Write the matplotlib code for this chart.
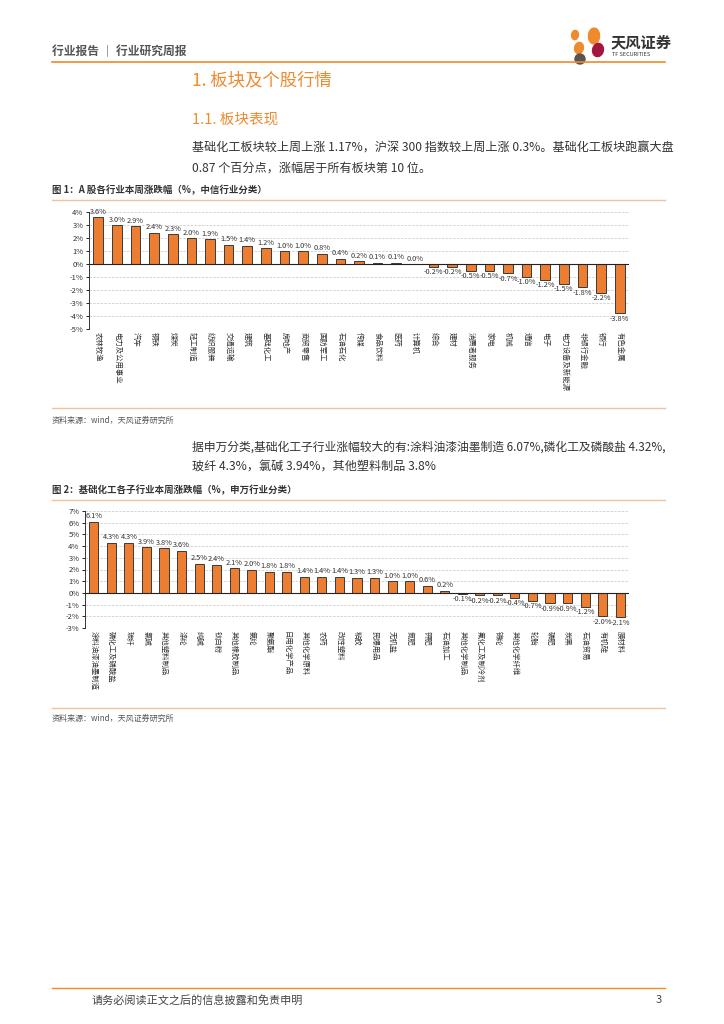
import matplotlib
matplotlib.use('Agg')
import matplotlib.pyplot as plt
from matplotlib.patches import Ellipse
from matplotlib.lines import Line2D

plt.rcParams['font.family'] = ['Noto Sans CJK SC', 'DejaVu Sans']

# ---- data: chart 1 (CITIC industries, weekly change %) ----
ind_names = ['农林牧渔', '电力及公用事业', '汽车', '钢铁', '煤炭', '轻工制造', '纺织服装',
             '交通运输', '建筑', '基础化工', '房地产', '商贸零售', '国防军工', '石油石化',
             '传媒', '食品饮料', '医药', '计算机', '综合', '建材', '消费者服务', '家电',
             '机械', '通信', '电子', '电力设备及新能源', '非银行金融', '银行', '有色金属']
ind_chg = [3.6, 3.0, 2.9, 2.4, 2.3, 2.0, 1.9, 1.5, 1.4, 1.2, 1.0, 1.0, 0.8, 0.4,
           0.2, 0.1, 0.1, 0.0, -0.2, -0.2, -0.5, -0.5, -0.7, -1.0, -1.2, -1.5, -1.8,
           -2.2, -3.8]

# ---- data: chart 2 (SW chemical sub-industries, weekly change %) ----
sub_names = ['涂料油漆油墨制造', '磷化工及磷酸盐', '玻纤', '氯碱', '其他塑料制品', '涤纶',
             '纯碱', '钛白粉', '其他橡胶制品', '氨纶', '聚氨酯', '日用化学产品',
             '其他化学原料', '农药', '改性塑料', '粘胶', '民爆用品', '无机盐', '氮肥',
             '钾肥', '石油加工', '其他化学制品', '氟化工及制冷剂', '锦纶', '其他化学纤维',
             '轮胎', '磷肥', '炭黑', '石油贸易', '有机硅', '膜材料']
sub_chg = [6.1, 4.3, 4.3, 3.9, 3.8, 3.6, 2.5, 2.4, 2.1, 2.0, 1.8, 1.8, 1.4, 1.4,
           1.4, 1.3, 1.3, 1.0, 1.0, 0.6, 0.2, -0.1, -0.2, -0.2, -0.4, -0.7, -0.9,
           -0.9, -1.2, -2.0, -2.1]

W, H = 724, 1024
ORANGE = '#ED7D31'
TITLE_OR = '#F08A2E'
LINE_OR = '#F6C197'

fig = plt.figure(figsize=(W / 100, H / 100), dpi=100)


def px(x, y):
    return x / W, 1 - y / H


def text(x, y, s, **kw):
    fig.text(*px(x, y), s, **kw)


def hline(y, x0=52, x1=665, color=LINE_OR, lw=1.0):
    fig.add_artist(Line2D([x0 / W, x1 / W], [1 - y / H, 1 - y / H],
                          color=color, lw=lw, transform=fig.transFigure))


# header
text(52, 52, '行业报告 ｜ 行业研究周报', fontsize=8.5, color='#555555',
     fontweight='bold', va='center')
hline(62, color='#F08A2A', lw=1.2)

# logo
for (cx, cy, w, h, ang, c) in [(575, 35, 7, 9, 30, '#F08A2E'),
                               (594, 36, 11, 16, -30, '#F08A2E'),
                               (579, 48, 9, 11, 20, '#F08A2E'),
                               (598, 50, 11, 13, 15, '#A3173E'),
                               (580, 59, 10, 10, 0, '#555555')]:
    fig.add_artist(Ellipse(px(cx, cy), w / W, h / H, angle=ang, color=c,
                           transform=fig.transFigure))
text(611, 42, '天风证券', fontsize=11, fontweight='bold', color='#333333', va='center')
text(612, 55, 'TF SECURITIES', fontsize=4, color='#333333', va='center')

# section titles
text(192, 80, '1. 板块及个股行情', fontsize=12.5, color=TITLE_OR, va='center')
text(192, 120, '1.1. 板块表现', fontsize=10.5, color=TITLE_OR, va='center')

text(192, 148, '基础化工板块较上周上涨 1.17%，沪深 300 指数较上周上涨 0.3%。基础化工板块跑赢大盘',
     fontsize=8.7, color='#333333', va='center')
text(192, 168, '0.87 个百分点，涨幅居于所有板块第 10 位。',
     fontsize=8.7, color='#333333', va='center')

text(52, 190, '图 1：A 股各行业本周涨跌幅（%，中信行业分类）', fontsize=6.8,
     fontweight='bold', color='#333333', va='center')
hline(200)


def bar_chart(rect, names, vals, ymin, ymax):
    ax = fig.add_axes(rect)
    x = list(range(len(vals)))
    ax.bar(x, vals, width=0.52, color=ORANGE, edgecolor='#3a3a3a', linewidth=0.7,
           zorder=3)
    ax.set_xlim(-0.5, len(vals) - 0.5)
    ax.set_ylim(ymin, ymax)
    ticks = list(range(ymin, ymax + 1))
    ax.set_yticks(ticks)
    ax.set_yticklabels(['%d%%' % t for t in ticks], fontsize=5.5, color='#333333')
    for t in ticks:
        if t != 0:
            ax.axhline(t, color='#cfcfcf', lw=0.6, ls=(0, (3, 1.5)), zorder=1)
    ax.axhline(0, color='#222222', lw=0.8, zorder=4)
    ax.set_xticks(x)
    ax.set_xticklabels(names, rotation=270, fontsize=5.3, color='#333333',
                       va='top', ha='center')
    ax.tick_params(axis='x', length=0, pad=2)
    ax.tick_params(axis='y', length=2, width=0.6, pad=2)
    for s in ['top', 'right', 'bottom']:
        ax.spines[s].set_visible(False)
    ax.spines['left'].set_color('#333333')
    ax.spines['left'].set_linewidth(0.7)
    off = (ymax - ymin) * 0.012
    for xi, v in zip(x, vals):
        if v >= 0:
            ax.text(xi, v + off, '%.1f%%' % v, ha='center', va='bottom',
                    fontsize=5.3, color='#333333', zorder=5)
        else:
            ax.text(xi, v - off, '%.1f%%' % v, ha='center', va='top',
                    fontsize=5.3, color='#333333', zorder=5)
    ax.patch.set_alpha(0)
    return ax


# chart 1: y 212 (4%) to 329 (-5%), x 89..629
x0, x1, yt, yb = 89, 629, 212, 329
bar_chart([x0 / W, 1 - yb / H, (x1 - x0) / W, (yb - yt) / H], ind_names, ind_chg, -5, 4)

hline(408)
text(52, 420, '资料来源：wind，天风证券研究所', fontsize=5.8, color='#555555', va='center')

text(192, 447, '据申万分类,基础化工子行业涨幅较大的有:涂料油漆油墨制造 6.07%,磷化工及磷酸盐 4.32%,',
     fontsize=8.5, color='#333333', va='center')
text(192, 467, '玻纤 4.3%，氯碱 3.94%，其他塑料制品 3.8%',
     fontsize=8.7, color='#333333', va='center')

text(52, 490, '图 2：基础化工各子行业本周涨跌幅（%，申万行业分类）', fontsize=6.8,
     fontweight='bold', color='#333333', va='center')
hline(500)

# chart 2: y 511 (7%) to 628 (-3%), x 85..629
x0, x1, yt, yb = 85, 629, 511, 628
bar_chart([x0 / W, 1 - yb / H, (x1 - x0) / W, (yb - yt) / H], sub_names, sub_chg, -3, 7)

hline(708)
text(52, 718, '资料来源：wind，天风证券研究所', fontsize=5.8, color='#555555', va='center')

# footer
hline(988, color='#F08A2A', lw=1.0)
text(92, 1000, '请务必阅读正文之后的信息披露和免责申明', fontsize=8, color='#444444', va='center')
text(662, 1000, '3', fontsize=8, color='#444444', va='center', ha='right')

fig.savefig('out.png', dpi=100)
